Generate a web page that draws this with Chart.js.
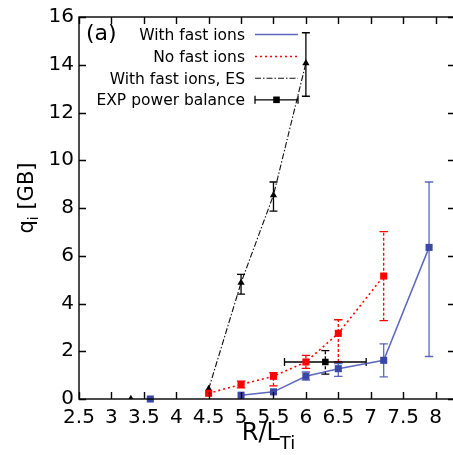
<!DOCTYPE html>
<html>
<head>
<meta charset="utf-8">
<script src="https://cdn.jsdelivr.net/npm/chart.js@4/dist/chart.umd.min.js"></script>
<style>
  html, body { margin: 0; padding: 0; background: #fff; overflow: hidden; width: 453px; height: 455px; }
  canvas { display: block; }
</style>
</head>
<body>
<canvas id="c" width="460" height="455"></canvas>
<script>
// Ion heat flux q_i [GB] versus the normalised gradient R/L_Ti

const seriesNames = ['With fast ions', 'No fast ions', 'With fast ions, ES', 'EXP power balance'];

const xTickValues = [2.5, 3, 3.5, 4, 4.5, 5, 5.5, 6, 6.5, 7, 7.5, 8];
const yTickValues = [0, 2, 4, 6, 8, 10, 12, 14, 16];

// With fast ions (electromagnetic)
const fastX  = [5.0, 5.5, 6.0, 6.5, 7.2, 7.9];
const fastQ  = [0.16, 0.30, 0.95, 1.27, 1.62, 6.35];
const fastLo = [null, null, 0.79, 0.95, 0.93, 1.78];
const fastHi = [null, null, 1.13, 1.48, 2.31, 9.09];
// stable case plotted on the axis
const fastStableX = [3.6];
const fastStableQ = [0];

// No fast ions
const noFastX  = [4.5, 5.0, 5.5, 6.0, 6.5, 7.2];
const noFastQ  = [0.24, 0.61, 0.95, 1.55, 2.75, 5.15];
const noFastLo = [null, 0.47, 0.55, 1.28, 1.55, 3.28];
const noFastHi = [null, 0.75, 1.10, 1.83, 3.32, 7.01];

// With fast ions, electrostatic
const esX  = [4.5, 5.0, 5.5, 6.0];
const esQ  = [0.42, 4.87, 8.54, 14.07];
const esLo = [null, 4.39, 7.87, 12.68];
const esHi = [null, 5.22, 9.09, 15.34];
const esStableX = [3.3];
const esStableQ = [0];

// Experimental power balance
const expX  = [6.3];
const expQ  = [1.55];
const expXLo = [5.67];
const expXHi = [6.93];
const expQLo = [1.04];
const expQHi = [2.03];

const BLUE = '#3a47a8';
const BLUE_LINE = 'rgba(64,78,176,0.85)';
const RED = '#ff0000';
const BLACK = '#000000';
const FONT = '"DejaVu Sans", "Liberation Sans", Arial, sans-serif';

const pts = (xs, ys) => xs.map((x, i) => ({ x, y: ys[i] }));

const datasets = [
  {
    label: seriesNames[0], data: pts(fastX, fastQ),
    borderColor: BLUE_LINE, borderWidth: 1.5,
    pointStyle: 'rect', pointRadius: 5, pointBackgroundColor: BLUE, pointBorderColor: BLUE, pointBorderWidth: 0,
    errLo: fastLo, errHi: fastHi, errColor: BLUE_LINE, errDash: [], errCap: 4.2, clip: false
  },
  {
    label: seriesNames[1], data: pts(noFastX, noFastQ),
    borderColor: RED, borderWidth: 1.6, borderDash: [2, 3],
    pointStyle: 'rect', pointRadius: 5, pointBackgroundColor: RED, pointBorderColor: RED, pointBorderWidth: 0,
    errLo: noFastLo, errHi: noFastHi, errColor: RED, errDash: [3, 2], errCap: 4.2, clip: false
  },
  {
    label: seriesNames[2], data: pts(esX, esQ),
    borderColor: '#111', borderWidth: 1.1, borderDash: [6, 2, 1.5, 2],
    pointStyle: 'triangle', pointRadius: 4.2, pointBackgroundColor: BLACK, pointBorderColor: BLACK, pointBorderWidth: 0,
    errLo: esLo, errHi: esHi, errColor: '#000', errDash: [], errCap: 4, clip: false
  },
  {
    label: seriesNames[3], data: pts(expX, expQ),
    showLine: false,
    pointStyle: 'rect', pointRadius: 4.6, pointBackgroundColor: BLACK, pointBorderColor: BLACK, pointBorderWidth: 0,
    errLo: expQLo, errHi: expQHi, errColor: '#000', errDash: [3, 2], errCap: 4,
    errXLo: expXLo, errXHi: expXHi, clip: false
  },
  {
    label: seriesNames[0] + ' (stable)', data: pts(fastStableX, fastStableQ), showLine: false,
    pointStyle: 'rect', pointRadius: 5, pointBackgroundColor: BLUE, pointBorderColor: BLUE, pointBorderWidth: 0, clip: false
  },
  {
    label: seriesNames[2] + ' (stable)', data: pts(esStableX, esStableQ), showLine: false,
    pointStyle: 'triangle', pointRadius: 4.2, pointBackgroundColor: BLACK, pointBorderColor: BLACK, pointBorderWidth: 0
  }
];

// vertical and horizontal error bars with caps
const errorBars = {
  id: 'errorBars',
  beforeDatasetsDraw(chart) {
    const { ctx, scales: { x, y } } = chart;
    chart.data.datasets.forEach(ds => {
      if (!ds.errLo) return;
      const cap = ds.errCap || 4;
      ctx.save();
      ctx.strokeStyle = ds.errColor;
      ctx.lineWidth = 1.3;
      ds.data.forEach((p, i) => {
        const px = x.getPixelForValue(p.x);
        const py = y.getPixelForValue(p.y);
        if (ds.errXLo && ds.errXLo[i] != null) {
          const x0 = x.getPixelForValue(ds.errXLo[i]);
          const x1 = x.getPixelForValue(ds.errXHi[i]);
          ctx.setLineDash([]);
          ctx.beginPath();
          ctx.moveTo(x0, py); ctx.lineTo(x1, py);
          ctx.moveTo(x0, py - cap); ctx.lineTo(x0, py + cap);
          ctx.moveTo(x1, py - cap); ctx.lineTo(x1, py + cap);
          ctx.stroke();
        }
        if (ds.errLo[i] == null) return;
        const y0 = y.getPixelForValue(ds.errLo[i]);
        const y1 = y.getPixelForValue(ds.errHi[i]);
        ctx.setLineDash(ds.errDash);
        ctx.beginPath();
        ctx.moveTo(px, y0); ctx.lineTo(px, y1);
        ctx.stroke();
        ctx.setLineDash([]);
        ctx.beginPath();
        ctx.moveTo(px - cap, y0); ctx.lineTo(px + cap, y0);
        ctx.moveTo(px - cap, y1); ctx.lineTo(px + cap, y1);
        ctx.stroke();
      });
      ctx.restore();
    });
  }
};

// closed frame with inward tick marks on all four sides
const frame = {
  id: 'frame',
  afterDatasetsDraw(chart) {
    const { ctx, chartArea: a, scales: { x, y } } = chart;
    const tl = 7;
    ctx.save();
    ctx.strokeStyle = '#000';
    ctx.lineWidth = 1.4;
    ctx.setLineDash([]);
    ctx.strokeRect(a.left, a.top, a.right - a.left, a.bottom - a.top);
    ctx.beginPath();
    x.ticks.forEach(t => {
      const px = Math.round(x.getPixelForValue(t.value)) + 0.5;
      ctx.moveTo(px, a.bottom); ctx.lineTo(px, a.bottom - tl);
      ctx.moveTo(px, a.top); ctx.lineTo(px, a.top + tl);
    });
    y.ticks.forEach(t => {
      const py = Math.round(y.getPixelForValue(t.value)) + 0.5;
      ctx.moveTo(a.left, py); ctx.lineTo(a.left + tl, py);
      ctx.moveTo(a.right, py); ctx.lineTo(a.right - tl, py);
    });
    ctx.stroke();
    ctx.restore();
  }
};

// panel tag, legend and axis titles
const annotations = {
  id: 'annotations',
  afterDraw(chart) {
    const { ctx } = chart;
    ctx.save();
    ctx.fillStyle = '#000';

    // panel tag
    ctx.font = '22px ' + FONT;
    ctx.textAlign = 'left';
    ctx.textBaseline = 'alphabetic';
    ctx.fillText('(a)', 86, 39.5);

    // legend: right-aligned labels followed by a line sample
    ctx.font = '15.5px ' + FONT;
    ctx.textAlign = 'right';
    const baselines = [40, 62, 83.7, 105.3];
    const sx0 = 255, sx1 = 298;
    seriesNames.forEach((name, i) => {
      const b = baselines[i];
      ctx.fillStyle = '#000';
      ctx.fillText(name, 245, b);
      const ly = b - 5.5;
      ctx.save();
      ctx.beginPath();
      if (i === 0) {
        ctx.strokeStyle = BLUE_LINE; ctx.lineWidth = 1.5;
      } else if (i === 1) {
        ctx.strokeStyle = RED; ctx.lineWidth = 1.6; ctx.setLineDash([2, 3]);
      } else if (i === 2) {
        ctx.strokeStyle = '#111'; ctx.lineWidth = 1.1; ctx.setLineDash([6, 2, 1.5, 2]);
      } else {
        ctx.strokeStyle = '#000'; ctx.lineWidth = 1.3;
      }
      ctx.moveTo(sx0, ly); ctx.lineTo(sx1, ly);
      if (i === 3) {
        ctx.moveTo(sx0, ly - 4); ctx.lineTo(sx0, ly + 4);
        ctx.moveTo(sx1, ly - 4); ctx.lineTo(sx1, ly + 4);
      }
      ctx.stroke();
      if (i === 3) {
        ctx.fillStyle = '#000';
        ctx.fillRect((sx0 + sx1) / 2 - 3.3, ly - 3.3, 6.6, 6.6);
      }
      ctx.restore();
    });

    // x title: R/L_Ti
    ctx.fillStyle = '#000';
    ctx.textAlign = 'left';
    ctx.font = '24px ' + FONT;
    const main = 'R/L';
    const wMain = ctx.measureText(main).width;
    ctx.font = '18px ' + FONT;
    const sub = 'Ti';
    const wSub = ctx.measureText(sub).width;
    const xStart = 268.5 - (wMain + wSub) / 2;
    ctx.font = '24px ' + FONT;
    ctx.fillText(main, xStart, 439.5);
    ctx.font = '18px ' + FONT;
    ctx.fillText(sub, xStart + wMain, 449);

    // y title: q_i [GB], rotated
    ctx.save();
    ctx.translate(33, 198);
    ctx.rotate(-Math.PI / 2);
    ctx.font = '21px ' + FONT;
    const wq = ctx.measureText('q').width;
    const rest = ' [GB]';
    const wr = ctx.measureText(rest).width;
    ctx.font = '14px ' + FONT;
    const wi = ctx.measureText('i').width;
    const start = -(wq + wi + wr) / 2;
    ctx.font = '21px ' + FONT;
    ctx.fillText('q', start, 0);
    ctx.font = '14px ' + FONT;
    ctx.fillText('i', start + wq, 4.5);
    ctx.font = '21px ' + FONT;
    ctx.fillText(rest, start + wq + wi, 0);
    ctx.restore();

    ctx.restore();
  }
};

const fmt = v => String(Math.round(v * 10) / 10);

new Chart(document.getElementById('c'), {
  type: 'line',
  data: { datasets },
  options: {
    responsive: false,
    animation: false,
    devicePixelRatio: 1,
    layout: { padding: { top: 13, right: 3, left: 0, bottom: 0 } },
    plugins: { legend: { display: false }, tooltip: { enabled: false } },
    elements: { line: { tension: 0 } },
    scales: {
      x: {
        type: 'linear', min: 2.5, max: 8.3,
        grid: { display: false, drawTicks: false },
        border: { display: false },
        afterBuildTicks: s => { s.ticks = xTickValues.map(v => ({ value: v })); },
        afterFit: s => { s.height = 56; },
        ticks: {
          autoSkip: false, maxRotation: 0, padding: 7, color: '#000',
          font: { family: FONT, size: 20 }, callback: fmt
        }
      },
      y: {
        type: 'linear', min: 0, max: 16,
        grid: { display: false, drawTicks: false },
        border: { display: false },
        afterBuildTicks: s => { s.ticks = yTickValues.map(v => ({ value: v })); },
        afterFit: s => { s.width = 79; },
        ticks: {
          autoSkip: false, padding: 5, color: '#000',
          font: { family: FONT, size: 20 }, callback: fmt
        }
      }
    }
  },
  plugins: [errorBars, frame, annotations]
});
</script>
</body>
</html>
